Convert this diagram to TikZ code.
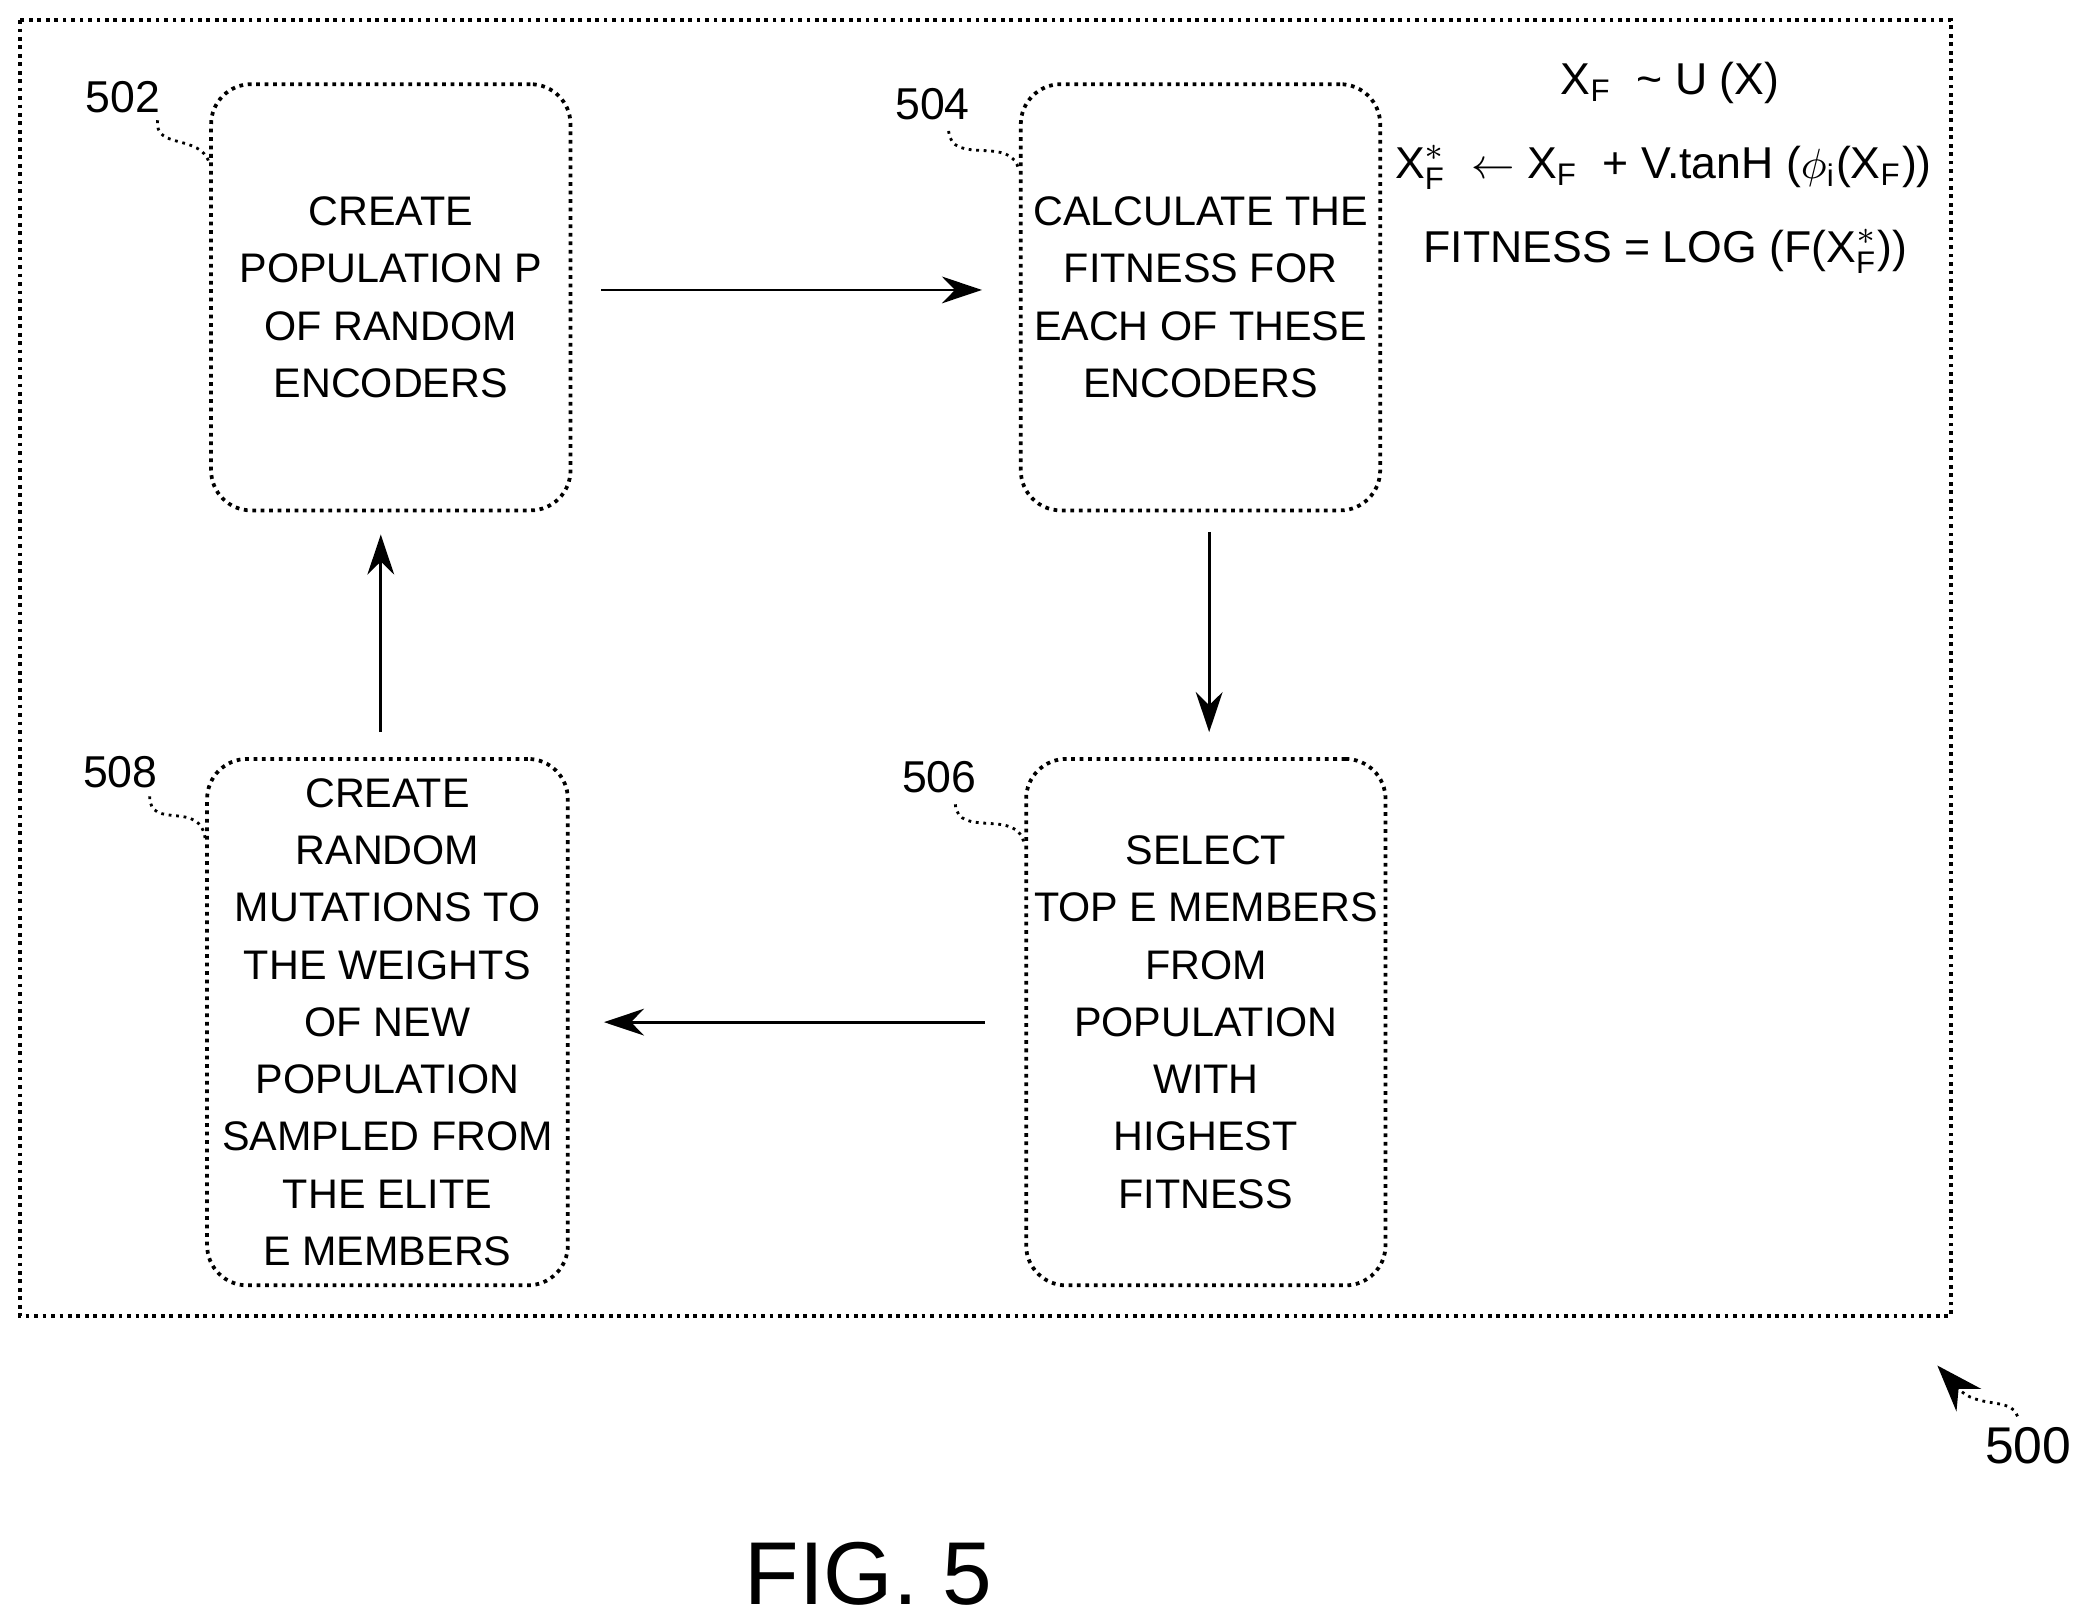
\documentclass[tikz,border=0pt]{standalone}
\usepackage{fontspec}
\setmainfont{Liberation Sans}
\usetikzlibrary{arrows.meta}
\begin{document}
\begin{tikzpicture}[x=0.1mm,y=-0.1mm,
  box/.style={draw,densely dotted,line width=0.8pt,rounded corners=3mm,align=center,inner sep=0pt,
    font=\fontsize{8.8}{12.2}\selectfont},
  arr/.style={-{Stealth[length=3mm,width=2mm]},line width=0.6pt},
  lab/.style={font=\fontsize{9.5}{12}\selectfont},
  fm/.style={font=\fontsize{9.5}{12}\selectfont},
  lead/.style={line width=0.6pt,densely dotted}]
\useasboundingbox (0,0) rectangle (1568,1213);
\draw[densely dotted,line width=0.8pt] (15,15) rectangle (1460,985);
\node[box,minimum width=26.9mm,minimum height=31.9mm] (b502) at (292.5,222.5) {CREATE\\POPULATION P\\OF RANDOM\\ENCODERS};
\node[box,minimum width=26.9mm,minimum height=31.9mm] (b504) at (898.5,222.5) {CALCULATE THE\\FITNESS FOR\\EACH OF THESE\\ENCODERS};
\node[box,minimum width=26.9mm,minimum height=39.4mm] (b506) at (902.5,765) {SELECT\\TOP E MEMBERS\\FROM\\POPULATION\\WITH\\HIGHEST\\FITNESS};
\node[box,minimum width=27mm,minimum height=39.4mm] (b508) at (290,765) {CREATE\\RANDOM\\MUTATIONS TO\\THE WEIGHTS\\OF NEW\\POPULATION\\SAMPLED FROM\\THE ELITE\\E MEMBERS};
\coordinate (a1) at (450,217); \coordinate (a2) at (735,217);
\draw[arr] (a1) -- (a2);
\coordinate (c1) at (905,398); \coordinate (c2) at (905,548);
\draw[arr] (c1) -- (c2);
\coordinate (d1) at (737,765); \coordinate (d2) at (452,765);
\draw[arr] (d1) -- (d2);
\coordinate (e1) at (285,548); \coordinate (e2) at (285,400);
\draw[arr] (e1) -- (e2);
\node[lab] (l502) at (92,73) {502};
\node[lab] (l504) at (698,78) {504};
\node[lab] (l506) at (703,582) {506};
\node[lab] (l508) at (90,578) {508};
\draw[lead] (118,90) .. controls (115,112) and (150,100) .. (b502.west |- 0,122);
\draw[lead] (710,98) .. controls (712,125) and (758,100) .. (b504.west |- 0,128);
\draw[lead] (715,602) .. controls (717,628) and (762,604) .. (b506.west |- 0,632);
\draw[lead] (112,596) .. controls (112,622) and (150,598) .. (b508.west |- 0,628);
\node[font=\fontsize{11}{12}\selectfont] (l500) at (1518,1082) {500};
\coordinate (p500) at (1450,1022);
\draw[lead,-{Stealth[length=3.5mm,width=2.5mm]}] (1510,1060) .. controls (1505,1045) and (1480,1055) .. (p500);
\node[font=\fontsize{19}{20}\selectfont] (fig) at (650,1178) {FIG. 5};
\node[fm] (f1) at (1250,62) {X\textsubscript{F}\ \ \textasciitilde\ U (X)};
\node[fm] (f2) at (1245,125) {X$^{*}_{\mathrm{F}}$\ \ $\leftarrow$ X\textsubscript{F}\ \ + V.tanH ($\phi$\textsubscript{i}(X\textsubscript{F}))};
\node[fm,anchor=east] (f3) at (1440,188) {FITNESS = LOG (F(X$^{*}_{\mathrm{F}}$))};
\end{tikzpicture}
\end{document}
